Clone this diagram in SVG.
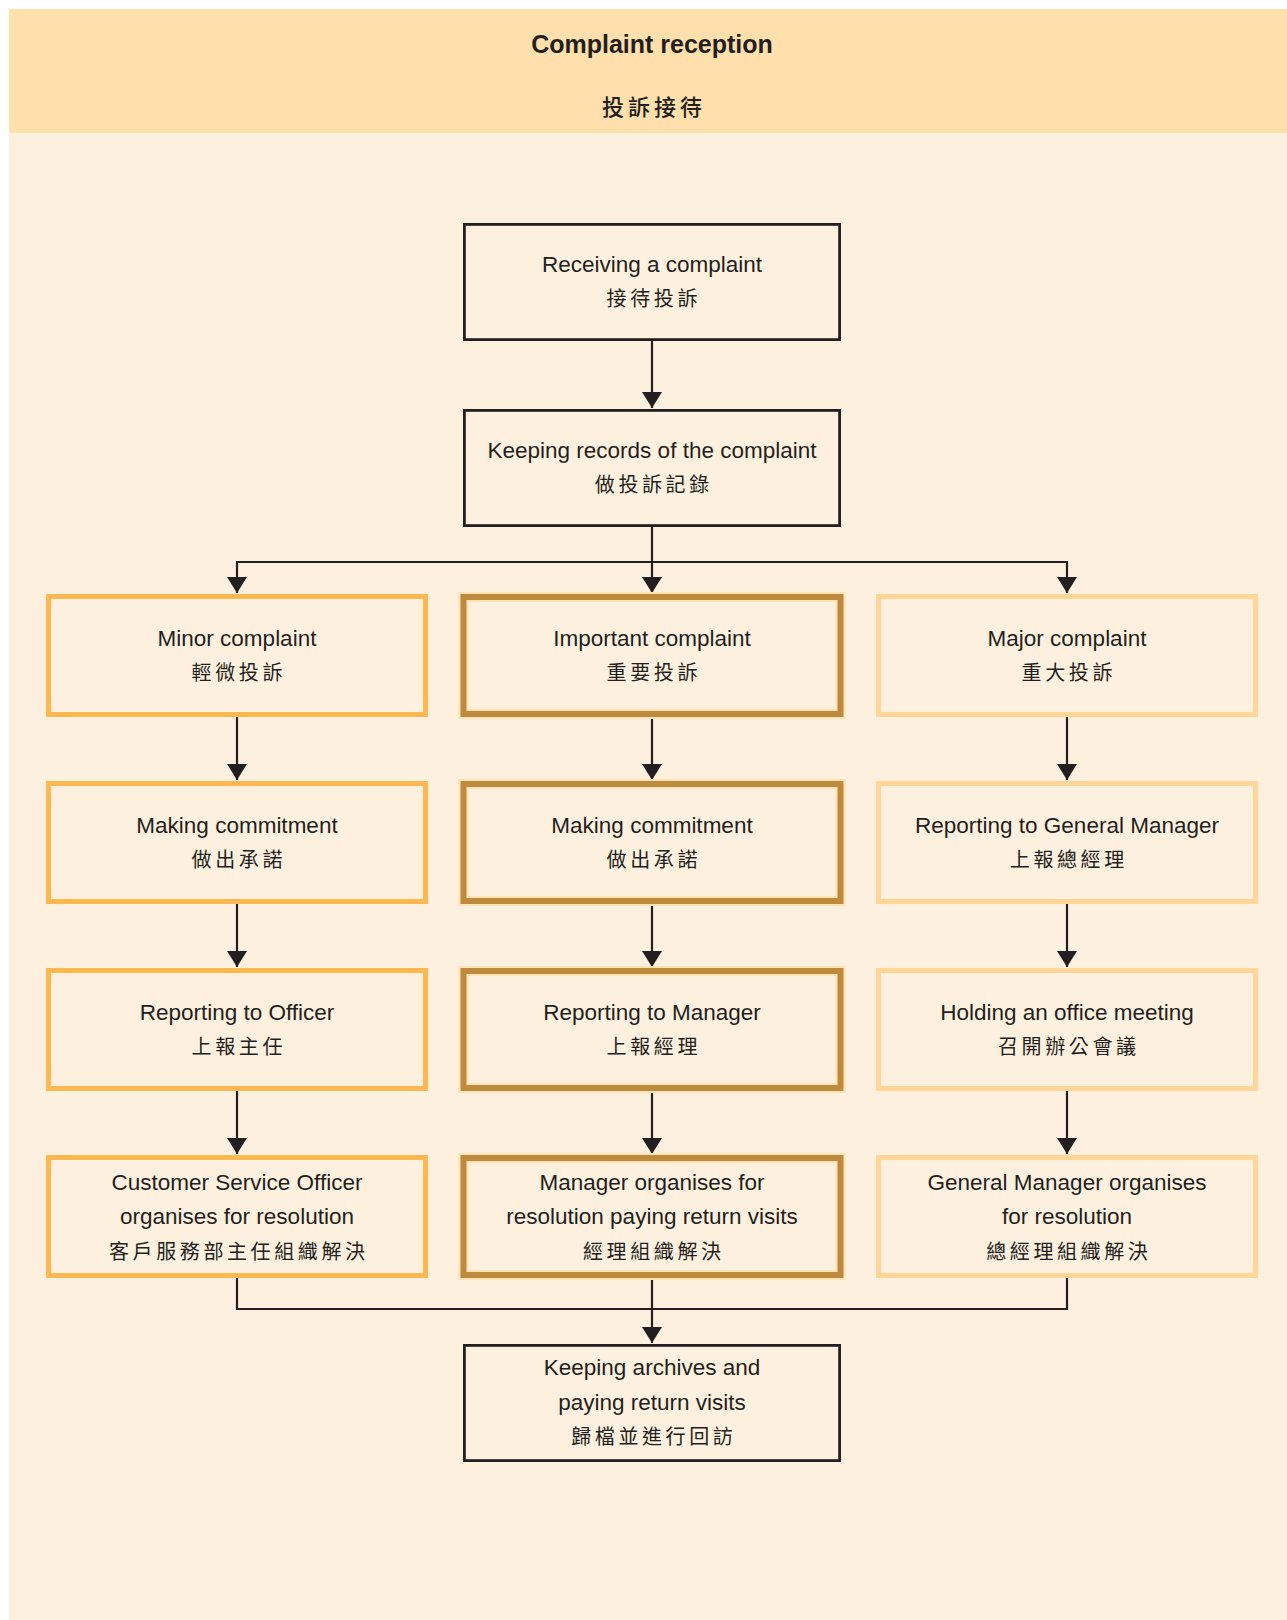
<svg xmlns="http://www.w3.org/2000/svg" width="1287" height="1620" viewBox="0 0 1287 1620">
<style>
.en{font-family:"Liberation Sans",Arial,sans-serif;font-size:22.5px;fill:#231F20;text-anchor:middle}
.zh{font-family:"Noto Sans CJK TC","Noto Sans CJK SC",sans-serif;font-size:20px;letter-spacing:3.6px;fill:#231F20;text-anchor:middle}
.title{font-family:"Liberation Sans",Arial,sans-serif;font-size:25px;font-weight:bold;fill:#231F20;text-anchor:middle}
.ztitle{font-family:"Noto Sans CJK TC","Noto Sans CJK SC",sans-serif;font-size:22px;font-weight:500;letter-spacing:4px;fill:#231F20;text-anchor:middle}
.blk{fill:none;stroke:#231F20;stroke-width:2.8}
.minor{fill:none;stroke:#FDB852;stroke-width:5}
.halo{fill:none;stroke:#FFE2B5;stroke-width:10}
.imp{fill:none;stroke:#BE8A3E;stroke-width:6}
.major{fill:none;stroke:#FFD698;stroke-width:5}
.ln{fill:none;stroke:#231F20;stroke-width:2.2}
</style>
<defs>
<marker id="ah" markerUnits="userSpaceOnUse" markerWidth="16" markerHeight="20" viewBox="0 0 16 20" refX="16" refY="10" orient="auto">
<path d="M0,0 L16,10 L0,20 z" fill="#231F20"/>
</marker>
</defs>
<rect x="0" y="0" width="1287" height="1620" fill="#FFFFFF"/>
<rect x="9" y="9" width="1278" height="1611" fill="#FEF0DE"/>
<g id="header">
<rect x="9" y="9" width="1278" height="124" fill="#FFDFAC"/>
<text class="title" x="652" y="53">Complaint reception</text>
<text class="ztitle" x="654" y="115">投訴接待</text>
</g>
<g id="connectors">
<path class="ln" d="M652,341 V408" marker-end="url(#ah)"/>
<path class="ln" d="M652,527 V593" marker-end="url(#ah)"/>
<path class="ln" d="M237,562 H1067"/>
<path class="ln" d="M237,561 V593" marker-end="url(#ah)"/>
<path class="ln" d="M1067,561 V593" marker-end="url(#ah)"/>
<path class="ln" d="M237,717 V780" marker-end="url(#ah)"/>
<path class="ln" d="M652,717 V780" marker-end="url(#ah)"/>
<path class="ln" d="M1067,717 V780" marker-end="url(#ah)"/>
<path class="ln" d="M237,904 V967" marker-end="url(#ah)"/>
<path class="ln" d="M652,904 V967" marker-end="url(#ah)"/>
<path class="ln" d="M1067,904 V967" marker-end="url(#ah)"/>
<path class="ln" d="M237,1091 V1154" marker-end="url(#ah)"/>
<path class="ln" d="M652,1091 V1154" marker-end="url(#ah)"/>
<path class="ln" d="M1067,1091 V1154" marker-end="url(#ah)"/>
<path class="ln" d="M237,1278 V1309 H1067 V1278"/>
<path class="ln" d="M652,1278 V1343" marker-end="url(#ah)"/>
</g>
<g id="receiving">
<rect class="blk" x="464.4" y="224.4" width="375.2" height="115.2"/>
<text class="en" x="652" y="272">Receiving a complaint</text>
<text class="zh" x="653.8" y="305.5">接待投訴</text>
</g>
<g id="records">
<rect class="blk" x="464.4" y="410.4" width="375.2" height="115.2"/>
<text class="en" x="652" y="458">Keeping records of the complaint</text>
<text class="zh" x="653.8" y="491.5">做投訴記錄</text>
</g>
<g id="minor">
<rect class="minor" x="48.5" y="596.5" width="377" height="118"/>
<text class="en" x="237" y="646">Minor complaint</text>
<text class="zh" x="238.8" y="680">輕微投訴</text>
</g>
<g id="important">
<rect class="halo" x="463.5" y="597" width="377" height="117"/>
<rect class="imp" x="463.5" y="597" width="377" height="117"/>
<text class="en" x="652" y="646">Important complaint</text>
<text class="zh" x="653.8" y="680">重要投訴</text>
</g>
<g id="major">
<rect class="major" x="878.5" y="596.5" width="377" height="118"/>
<text class="en" x="1067" y="646">Major complaint</text>
<text class="zh" x="1068.8" y="680">重大投訴</text>
</g>
<g id="commit-minor">
<rect class="minor" x="48.5" y="783.5" width="377" height="118"/>
<text class="en" x="237" y="833">Making commitment</text>
<text class="zh" x="238.8" y="867">做出承諾</text>
</g>
<g id="commit-important">
<rect class="halo" x="463.5" y="784" width="377" height="117"/>
<rect class="imp" x="463.5" y="784" width="377" height="117"/>
<text class="en" x="652" y="833">Making commitment</text>
<text class="zh" x="653.8" y="867">做出承諾</text>
</g>
<g id="report-gm">
<rect class="major" x="878.5" y="783.5" width="377" height="118"/>
<text class="en" x="1067" y="833">Reporting to General Manager</text>
<text class="zh" x="1068.8" y="867">上報總經理</text>
</g>
<g id="report-officer">
<rect class="minor" x="48.5" y="970.5" width="377" height="118"/>
<text class="en" x="237" y="1020">Reporting to Officer</text>
<text class="zh" x="238.8" y="1054">上報主任</text>
</g>
<g id="report-manager">
<rect class="halo" x="463.5" y="971" width="377" height="117"/>
<rect class="imp" x="463.5" y="971" width="377" height="117"/>
<text class="en" x="652" y="1020">Reporting to Manager</text>
<text class="zh" x="653.8" y="1054">上報經理</text>
</g>
<g id="office-meeting">
<rect class="major" x="878.5" y="970.5" width="377" height="118"/>
<text class="en" x="1067" y="1020">Holding an office meeting</text>
<text class="zh" x="1068.8" y="1054">召開辦公會議</text>
</g>
<g id="cso-resolution">
<rect class="minor" x="48.5" y="1157.5" width="377" height="118"/>
<text class="en" x="237" y="1189.5">Customer Service Officer</text>
<text class="en" x="237" y="1223.5">organises for resolution</text>
<text class="zh" x="238.8" y="1258.5">客戶服務部主任組織解決</text>
</g>
<g id="manager-resolution">
<rect class="halo" x="463.5" y="1158" width="377" height="117"/>
<rect class="imp" x="463.5" y="1158" width="377" height="117"/>
<text class="en" x="652" y="1189.5">Manager organises for</text>
<text class="en" x="652" y="1223.5">resolution paying return visits</text>
<text class="zh" x="653.8" y="1258.5">經理組織解決</text>
</g>
<g id="gm-resolution">
<rect class="major" x="878.5" y="1157.5" width="377" height="118"/>
<text class="en" x="1067" y="1189.5">General Manager organises</text>
<text class="en" x="1067" y="1223.5">for resolution</text>
<text class="zh" x="1068.8" y="1258.5">總經理組織解決</text>
</g>
<g id="archives">
<rect class="blk" x="464.4" y="1345.4" width="375.2" height="115.2"/>
<text class="en" x="652" y="1375">Keeping archives and</text>
<text class="en" x="652" y="1409.5">paying return visits</text>
<text class="zh" x="653.8" y="1444">歸檔並進行回訪</text>
</g>
</svg>
